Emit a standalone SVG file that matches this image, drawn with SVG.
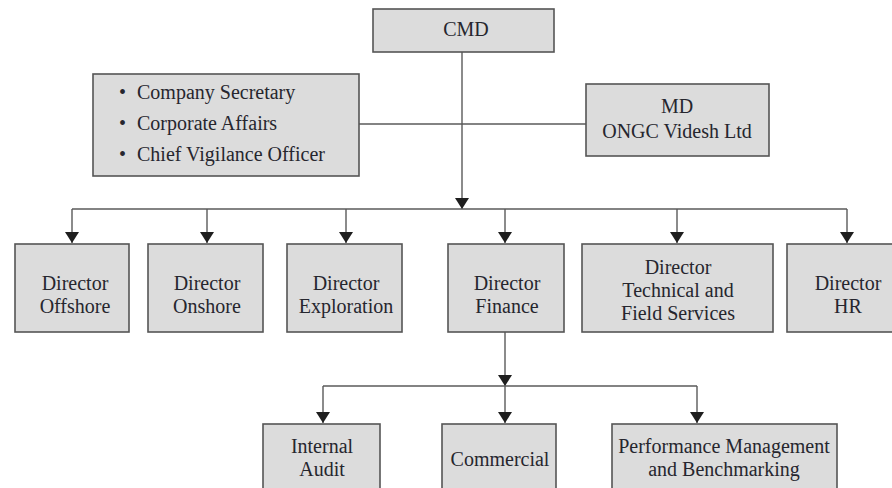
<svg xmlns="http://www.w3.org/2000/svg" width="892" height="488" viewBox="0 0 892 488">
  <style>
    .box { fill: #dcdcdc; stroke: #555555; stroke-width: 1.6; }
    .lbl { font-family: "Liberation Serif", "Times New Roman", Times, Tinos, "DejaVu Serif", "Noto Serif", serif; font-size: 20px; fill: #26262e; text-anchor: middle; }
    .lft { text-anchor: start; }
    .wire { fill: none; stroke: #5a5a5a; stroke-width: 1.4; }
  </style>
  <defs>
    <marker id="arrow" viewBox="0 0 11 14" refX="11" refY="7" markerWidth="11" markerHeight="14" markerUnits="userSpaceOnUse" orient="auto">
      <path d="M0,0 L11,7 L0,14 z" fill="#1e1e1e"/>
    </marker>
  </defs>
  <rect width="892" height="488" fill="#ffffff"/>

  <!-- connectors -->
  <g id="connectors">
    <line class="wire" x1="359" y1="124" x2="586" y2="124"/>
    <line class="wire" x1="462" y1="52" x2="462" y2="209" marker-end="url(#arrow)"/>
    <line class="wire" x1="72" y1="209" x2="847" y2="209"/>
    <line class="wire" x1="72" y1="209" x2="72" y2="243" marker-end="url(#arrow)"/>
    <line class="wire" x1="207" y1="209" x2="207" y2="243" marker-end="url(#arrow)"/>
    <line class="wire" x1="346" y1="209" x2="346" y2="243" marker-end="url(#arrow)"/>
    <line class="wire" x1="505" y1="209" x2="505" y2="243" marker-end="url(#arrow)"/>
    <line class="wire" x1="677" y1="209" x2="677" y2="243" marker-end="url(#arrow)"/>
    <line class="wire" x1="847" y1="209" x2="847" y2="243" marker-end="url(#arrow)"/>
    <line class="wire" x1="505" y1="332" x2="505" y2="386" marker-end="url(#arrow)"/>
    <line class="wire" x1="323" y1="386" x2="697" y2="386"/>
    <line class="wire" x1="323" y1="386" x2="323" y2="423" marker-end="url(#arrow)"/>
    <line class="wire" x1="505" y1="386" x2="505" y2="423" marker-end="url(#arrow)"/>
    <line class="wire" x1="697" y1="386" x2="697" y2="423" marker-end="url(#arrow)"/>
  </g>

  <g id="cmd">
    <rect class="box" x="373" y="9" width="181" height="43"/>
    <text class="lbl" x="466" y="36">CMD</text>
  </g>

  <g id="staff">
    <rect class="box" x="93" y="74" width="266" height="102"/>
    <text class="lbl lft" x="119" y="99">•</text>
    <text class="lbl lft" x="137" y="99">Company Secretary</text>
    <text class="lbl lft" x="119" y="130">•</text>
    <text class="lbl lft" x="137" y="130">Corporate Affairs</text>
    <text class="lbl lft" x="119" y="161">•</text>
    <text class="lbl lft" x="137" y="161">Chief Vigilance Officer</text>
  </g>

  <g id="md-ovl">
    <rect class="box" x="586" y="84" width="183" height="72"/>
    <text class="lbl" x="677" y="113">MD</text>
    <text class="lbl" x="677" y="138">ONGC Videsh Ltd</text>
  </g>

  <g id="dir-offshore">
    <rect class="box" x="15" y="244" width="114" height="88"/>
    <text class="lbl" x="75" y="290">Director</text>
    <text class="lbl" x="75" y="313">Offshore</text>
  </g>

  <g id="dir-onshore">
    <rect class="box" x="148" y="244" width="115" height="88"/>
    <text class="lbl" x="207" y="290">Director</text>
    <text class="lbl" x="207" y="313">Onshore</text>
  </g>

  <g id="dir-exploration">
    <rect class="box" x="287" y="244" width="115" height="88"/>
    <text class="lbl" x="346" y="290">Director</text>
    <text class="lbl" x="346" y="313">Exploration</text>
  </g>

  <g id="dir-finance">
    <rect class="box" x="448" y="244" width="116" height="88"/>
    <text class="lbl" x="507" y="290">Director</text>
    <text class="lbl" x="507" y="313">Finance</text>
  </g>

  <g id="dir-technical">
    <rect class="box" x="582" y="244" width="191" height="88"/>
    <text class="lbl" x="678" y="274">Director</text>
    <text class="lbl" x="678" y="297">Technical and</text>
    <text class="lbl" x="678" y="320">Field Services</text>
  </g>

  <g id="dir-hr">
    <rect class="box" x="787" y="244" width="120" height="88"/>
    <text class="lbl" x="848" y="290">Director</text>
    <text class="lbl" x="848" y="313">HR</text>
  </g>

  <g id="internal-audit">
    <rect class="box" x="263" y="424" width="117" height="66"/>
    <text class="lbl" x="322" y="453">Internal</text>
    <text class="lbl" x="322" y="476">Audit</text>
  </g>

  <g id="commercial">
    <rect class="box" x="442" y="424" width="114" height="66"/>
    <text class="lbl" x="500" y="466">Commercial</text>
  </g>

  <g id="performance">
    <rect class="box" x="612" y="424" width="225" height="66"/>
    <text class="lbl" x="724" y="453">Performance Management</text>
    <text class="lbl" x="724" y="476">and Benchmarking</text>
  </g>
</svg>
